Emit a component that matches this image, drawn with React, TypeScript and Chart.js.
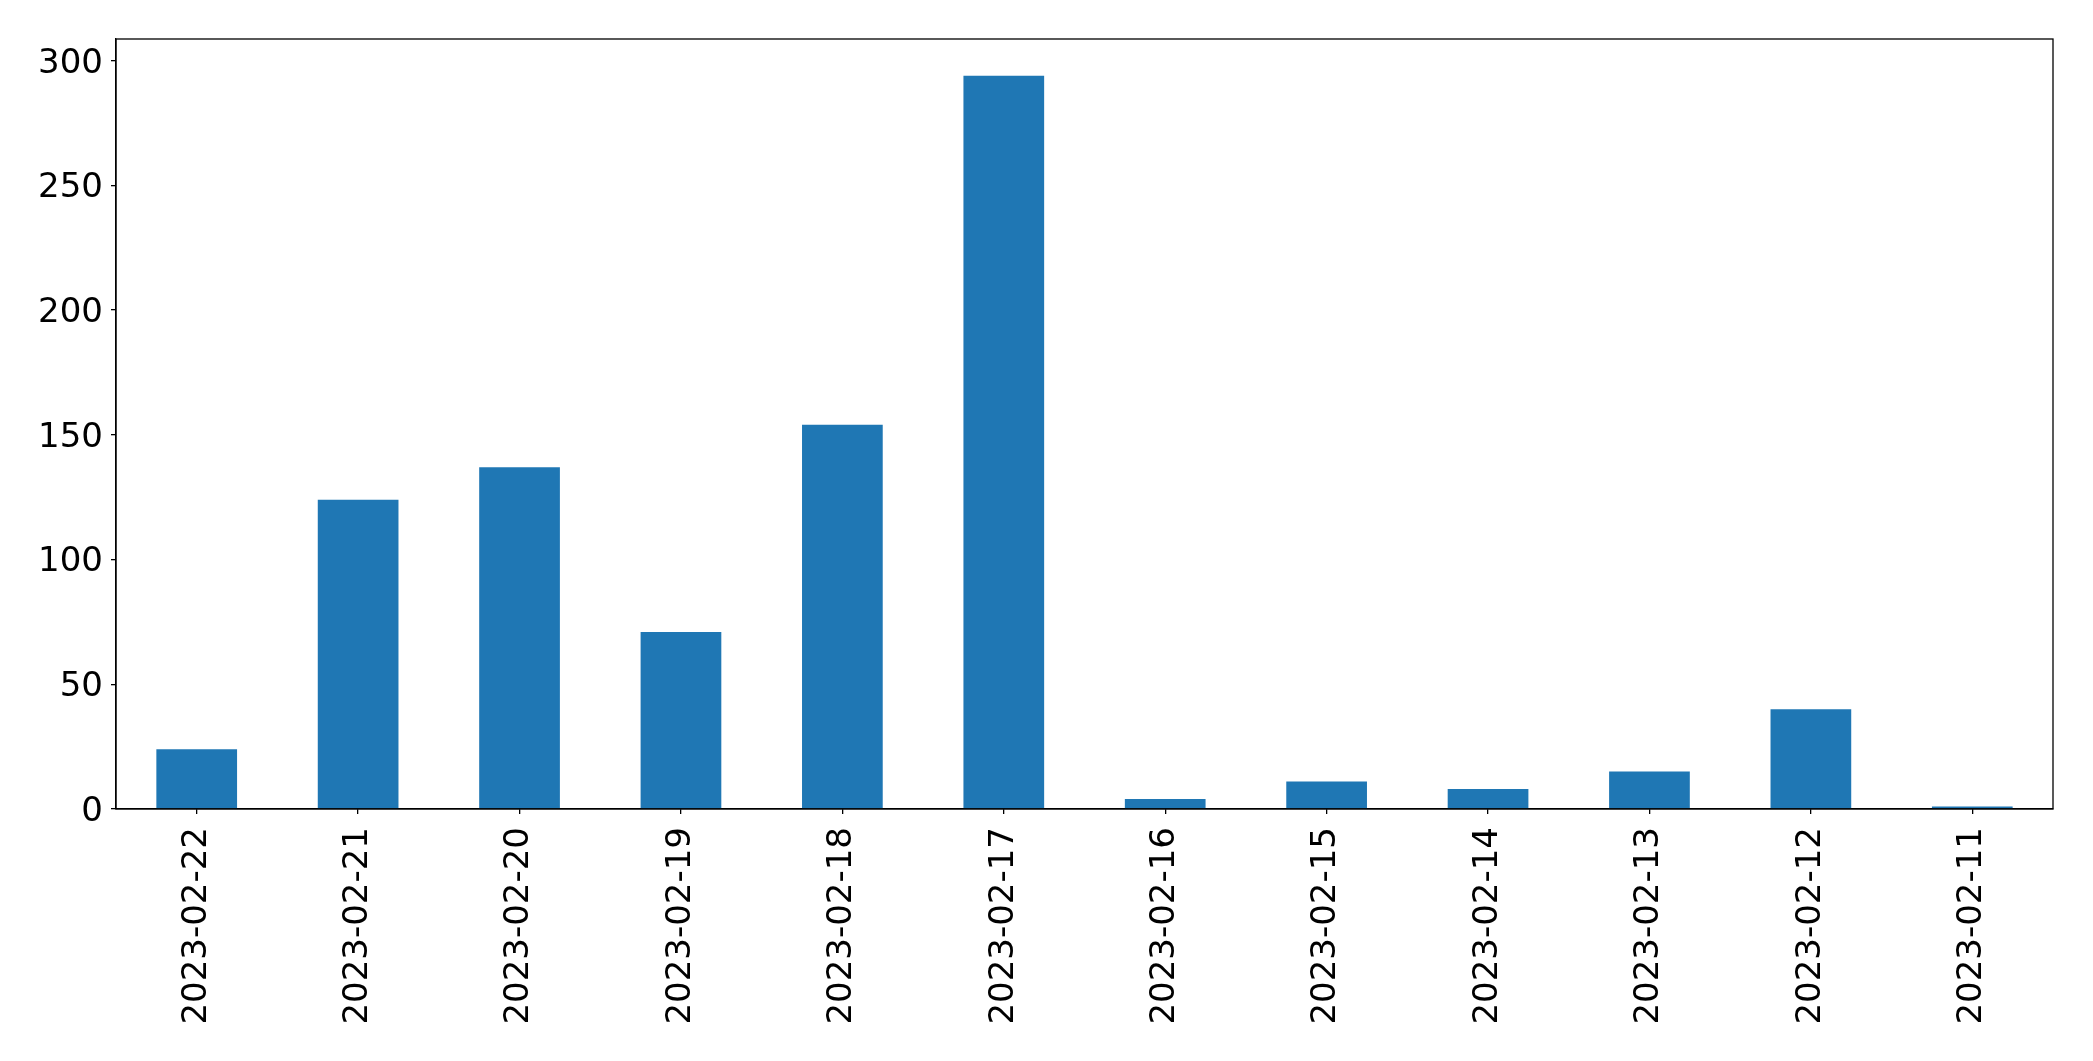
import React, { useEffect, useRef } from "react";
import { Chart, registerables } from "chart.js";

Chart.register(...registerables);

const categories = [
  "2023-02-22", "2023-02-21", "2023-02-20", "2023-02-19", "2023-02-18", "2023-02-17",
  "2023-02-16", "2023-02-15", "2023-02-14", "2023-02-13", "2023-02-12", "2023-02-11",
];
const counts = [24, 124, 137, 71, 154, 294, 4, 11, 8, 15, 40, 1];
const yMax = 308.7;
const yStep = 50;

const W = 2093;
const H = 1061;

const framePlugin = {
  id: "frame",
  afterDraw(chart: any) {
    const { ctx, chartArea } = chart;
    ctx.save();
    ctx.strokeStyle = "#000";
    ctx.lineWidth = 1.3;
    ctx.strokeRect(chartArea.left, chartArea.top, chartArea.right - chartArea.left, chartArea.bottom - chartArea.top);
    ctx.restore();
  },
};

export default function App() {
  const ref = useRef<HTMLCanvasElement>(null);
  useEffect(() => {
    document.body.style.margin = "0";
    const font = { family: "'DejaVu Sans', sans-serif", size: 34 };
    const chart = new Chart(ref.current!, {
      type: "bar",
      data: {
        labels: categories,
        datasets: [
          {
            data: counts,
            backgroundColor: "#1f77b4",
            borderWidth: 0,
            categoryPercentage: 1,
            barPercentage: 0.5,
          },
        ],
      },
      options: {
        responsive: false,
        animation: false,
        devicePixelRatio: 1,
        layout: { padding: { left: 0, right: 40, top: 39, bottom: 0 } },
        plugins: { legend: { display: false }, tooltip: { enabled: false } },
        scales: {
          x: {
            offset: true,
            grid: { display: true, drawOnChartArea: false, drawTicks: true, tickLength: 5, color: "#000", lineWidth: 1.3, offset: false },
            border: { display: true, color: "#000", width: 1.3 },
            ticks: { font, color: "#000", minRotation: 90, maxRotation: 90, autoSkip: false, padding: 13 },
            afterFit(scale: any) { scale.height = H - 809; },
          },
          y: {
            min: 0,
            max: yMax,
            grid: { display: true, drawOnChartArea: false, drawTicks: true, tickLength: 5, color: "#000", lineWidth: 1.3 },
            border: { display: true, color: "#000", width: 1.3 },
            ticks: { font, color: "#000", stepSize: yStep, includeBounds: false, padding: 8, labelOffset: 3 },
            afterFit(scale: any) { scale.width = 116; },
          },
        },
      },
      plugins: [framePlugin],
    });
    return () => chart.destroy();
  }, []);
  return <canvas ref={ref} width={W} height={H} style={{ display: "block", width: W, height: H }} />;
}
